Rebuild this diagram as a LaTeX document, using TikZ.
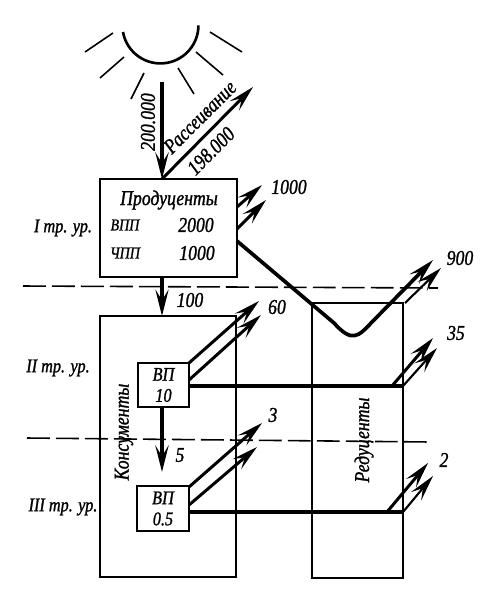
\documentclass[tikz,border=0pt]{standalone}
\usepackage{fontspec}
\setmainfont{Liberation Serif}[ItalicFeatures={FakeBold=1.2,FakeStretch=0.84}]
\usetikzlibrary{arrows.meta}
\tikzset{
	box/.style={draw, line width=1.4pt, inner sep=0pt, align=center},
	flow/.style={line width=1.7pt, -{Stealth[length=15pt,width=7.5pt,inset=6pt]}},
	pipe/.style={line width=1.9pt},
	level/.style={dash pattern=on 13pt off 3.5pt, line width=0.9pt},
	txt/.style={font=\itshape\fontsize{12}{13}\selectfont, inner sep=0pt},
	small/.style={font=\itshape\fontsize{9.5}{11}\selectfont, inner sep=0pt},
	trophic/.style={font=\itshape\fontsize{11}{12}\selectfont, inner sep=0pt},
	ray/.style={line width=0.9pt}
}
\begin{document}
\begin{tikzpicture}[x=0.02cm,y=-0.02cm]
	\useasboundingbox (0,0) rectangle (483,600);

	% Sun
	\draw[line width=1.5pt] (123,32) arc (170:0:38);
	\foreach \xa/\ya/\xb/\yb in {85/52/113/33, 100/78/124/57, 131/99/144/73, 178/68/194/94, 196/52/223/75, 210/32/242/52} {
		\draw[ray] (\xa,\ya) -- (\xb,\yb);
	}

	% Boxes
	\node[box, minimum width=2.74cm, minimum height=1.96cm] (prod) at (168.5,228) {};
	\node[box, minimum width=2.72cm, minimum height=5.22cm] (cons) at (168,446.5) {};
	\node[box, minimum width=1.82cm, minimum height=5.5cm] (red) at (357.5,440.5) {};
	\node[box, trophic, minimum width=1.02cm, minimum height=0.88cm] (vp10) at (163.5,385) {ВП\\10};
	\node[box, trophic, minimum width=1.04cm, minimum height=0.9cm] (vp05) at (163,508.5) {ВП\\0.5};

	% Level lines
	\coordinate (la) at (23,286);
	\coordinate (lb) at (438,288);
	\coordinate (lc) at (27,438);
	\coordinate (ld) at (430,442);
	\draw[level] (la) -- (lb);
	\draw[level] (lc) -- (ld);

	% Free ends
	\coordinate (sunin) at (162,82);
	\coordinate (scat) at (253,87);
	\coordinate (prodtop) at (162,179);
	\coordinate (prodbot) at (162,277);
	\coordinate (constop) at (162,316);
	\coordinate (pa) at (237,207);
	\coordinate (pb) at (237,229);
	\coordinate (pc) at (237,241);
	\coordinate (pae) at (262,185);
	\coordinate (pbe) at (266,200);
	\coordinate (rc) at (405,303);
	\coordinate (cue) at (433,260);
	\coordinate (rce) at (441,268);
	\coordinate (va) at (189,363);
	\coordinate (vb) at (189,380);
	\coordinate (vae) at (259,301);
	\coordinate (vbe) at (261,315);
	\coordinate (vc) at (189,386);
	\coordinate (hb) at (392,386);
	\coordinate (hc) at (403,386);
	\coordinate (hbe) at (433,338);
	\coordinate (hce) at (437,348);
	\coordinate (vtb) at (162,407);
	\coordinate (vte) at (162,472);
	\coordinate (wa) at (189,487);
	\coordinate (wb) at (189,505);
	\coordinate (wae) at (262,423);
	\coordinate (wbe) at (257,447);
	\coordinate (wc) at (189,512);
	\coordinate (kb) at (387,512);
	\coordinate (kc) at (403,512);
	\coordinate (kbe) at (428,463);
	\coordinate (kce) at (433,476);

	% Flows
	\draw[flow, line width=2.6pt] (sunin) -- (prodtop);
	\draw[flow] (prodtop) -- (scat);
	\draw[flow, line width=2pt] (prodbot) -- (constop);
	\draw[flow] (pa) -- (pae);
	\draw[flow] (pb) -- (pbe);
	\draw[flow, line width=2.1pt] (pc) -- (334,323) .. controls (352,343) and (358,337) .. (372,322) -- (cue);
	\draw[flow, line width=1.2pt] (rc) -- (rce);
	\draw[flow] (va) -- (vae);
	\draw[flow] (vb) -- (vbe);
	\draw[pipe] (vc) -- (hc);
	\draw[flow] (hb) -- (hbe);
	\draw[flow, line width=1.2pt] (hc) -- (hce);
	\draw[flow, line width=2.6pt] (vtb) -- (vte);
	\draw[flow] (wa) -- (wae);
	\draw[flow] (wb) -- (wbe);
	\draw[pipe] (wc) -- (kc);
	\draw[flow] (kb) -- (kbe);
	\draw[flow, line width=1.2pt] (kc) -- (kce);

	% Labels
	\node[txt, rotate=90] (lsun) at (148,122) {200.000};
	\node[txt, rotate=45] (lscat) at (200,117) {Рассеивание};
	\node[txt, rotate=45] (lscatv) at (211,151) {198.000};
	\node[txt] (lprod) at (169,200) {Продуценты};
	\node[small] (lgpp) at (125,225) {ВПП};
	\node[txt] (lgppv) at (196,225) {2000};
	\node[small] (lnpp) at (125,253) {ЧПП};
	\node[txt] (lnppv) at (197,253) {1000};
	\node[trophic] (lone) at (63,228) {I тр. ур.};
	\node[trophic] (ltwo) at (58,368) {II тр. ур.};
	\node[trophic] (lthree) at (63,507) {III тр. ур.};
	\node[txt, rotate=90] (lcons) at (124,432) {Консументы};
	\node[txt, rotate=90] (lred) at (364,440) {Редуценты};
	\node[txt] (nresp) at (289,187) {1000};
	\node[txt] (nfeed) at (190,300) {100};
	\node[txt] (ndead) at (460,258) {900};
	\node[txt] (nsixty) at (277,307) {60};
	\node[txt] (nthree) at (456,333) {35};
	\node[txt] (nfive) at (180,455) {5};
	\node[txt] (ntri) at (273,415) {3};
	\node[txt] (ntwo) at (444,460) {2};
\end{tikzpicture}
\end{document}
